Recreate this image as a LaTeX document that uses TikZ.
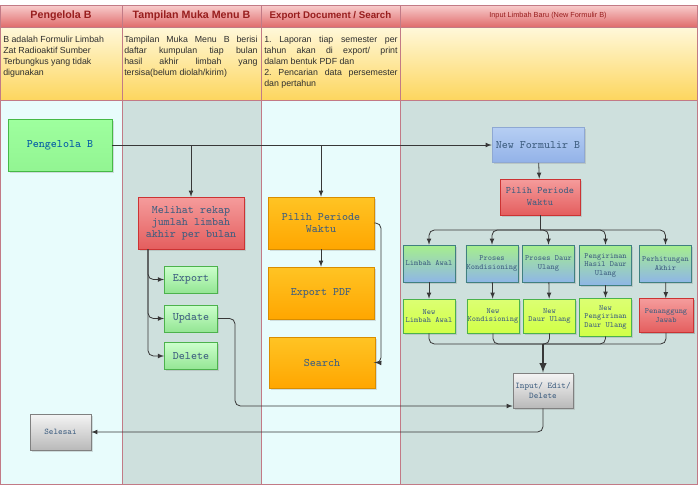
\documentclass[tikz,border=0pt]{standalone}
\usepackage{xcolor}
\usepackage{fontspec}
\setmainfont{Liberation Sans}
\usepackage{tikz}
\usetikzlibrary{arrows}
\usetikzlibrary{positioning}
\usetikzlibrary{shadows}

\definecolor{laneA}{HTML}{E8FCFC}
\definecolor{laneB}{HTML}{CEE0DD}
\definecolor{laneline}{HTML}{C27A86}
\definecolor{headtop}{HTML}{F8CDCD}
\definecolor{headbot}{HTML}{E06C6C}
\definecolor{headtext}{HTML}{981E1E}
\definecolor{desctop}{HTML}{FFF8DA}
\definecolor{descbot}{HTML}{FDD65E}
\definecolor{desctext}{HTML}{2E2E2E}
\definecolor{nodetext}{HTML}{3E5E80}
\definecolor{wire}{HTML}{383838}
\definecolor{orangetop}{HTML}{FFC424}
\definecolor{orangebot}{HTML}{FFA600}
\definecolor{bluetop}{HTML}{B6CEF3}
\definecolor{bluebot}{HTML}{92B2E8}
\definecolor{mixtop}{HTML}{A6EF8C}
\definecolor{mixbot}{HTML}{8FB6E6}
\definecolor{redtop}{HTML}{F59C9C}
\definecolor{redbot}{HTML}{E45E5E}

\tikzset{
  headtitle/.style={inner sep=0pt, text=headtext, font=\bfseries\fontsize{8}{9}\selectfont},
  desc/.style={anchor=north west, inner sep=0pt, text=desctext, font=\frenchspacing\fontsize{6.6}{8.3}\selectfont},
  box/.style={draw, thin, align=center, inner sep=0.5pt, text=nodetext,
    font=\ttfamily\fontsize{8.6}{9}\selectfont,
    drop shadow={opacity=0.25, shadow xshift=1.2pt, shadow yshift=-1.2pt}},
  smallbox/.style={box, font=\ttfamily\fontsize{6}{6.4}\selectfont},
  greenbox/.style={box, draw=green!45!gray, top color=green!38!white, bottom color=green!42!white!92!gray},
  limebox/.style={box, draw=green!40!gray, top color=green!20!white, bottom color=green!40!white!80!gray},
  redbox/.style={box, draw=red!60!gray, top color=redtop, bottom color=redbot},
  orangebox/.style={box, draw=orangebot!85!black, top color=orangetop, bottom color=orangebot},
  bluebox/.style={box, draw=bluebot!80!gray, top color=bluetop, bottom color=bluebot},
  mixbox/.style={smallbox, draw=teal!50!gray, top color=mixtop, bottom color=mixbot},
  yellowbox/.style={smallbox, draw=green!40!gray, top color=lime!55!white, bottom color=lime!72!white},
  graybox/.style={box, draw=gray, top color=gray!8, bottom color=gray!55,
    font=\ttfamily\fontsize{6.5}{7}\selectfont},
  wireline/.style={wire, line width=0.6pt, rounded corners=4pt}
}

\begin{document}
\begin{tikzpicture}[x=0.75pt,y=-0.75pt,>=latex]
\useasboundingbox (0,0) rectangle (700,486);
% lanes
\fill[white] (0,0) rectangle (700,486);
\fill[laneA] (0,100) rectangle (122,484);
\fill[laneB] (122,100) rectangle (261,484);
\fill[laneA] (261,100) rectangle (400,484);
\fill[laneB] (400,100) rectangle (697,484);
\shade[top color=headtop,bottom color=headbot] (0,5) rectangle (697,27);
\shade[top color=desctop,bottom color=descbot] (0,27) rectangle (697,100);
\draw[laneline] (0,5) rectangle (697,484);
\draw[laneline] (0,27) -- (697,27);
\draw[laneline] (0,100) -- (697,100);
\draw[laneline] (122,5) -- (122,484);
\draw[laneline] (261,5) -- (261,484);
\draw[laneline] (400,5) -- (400,484);

% headers
\node[headtitle] (h1) at (61,16) {Pengelola B};
\node[headtitle] (h2) at (191.5,16) {Tampilan Muka Menu B};
\node[headtitle, font=\bfseries\fontsize{7.3}{9}\selectfont] (h3) at (330.5,16) {Export Document / Search};
\node[headtitle, font=\fontsize{5.5}{7}\selectfont] (h4) at (548,16) {Input Limbah Baru (New Formulir B)};

% descriptions
\node[desc, align=left] (d1) at (3,36) {B adalah Formulir Limbah\\Zat Radioaktif Sumber\\Terbungkus yang tidak\\digunakan};
\node[desc, text width=100pt, align=justify] (d2) at (124,36) {Tampilan Muka Menu B berisi\linebreak daftar kumpulan tiap bulan\linebreak hasil akhir limbah yang\linebreak tersisa(belum diolah/kirim)};
\node[desc, text width=100pt, align=justify] (d3) at (264,36) {1. Laporan tiap semester per\linebreak tahun akan di export/ print\linebreak dalam bentuk PDF dan\\2. Pencarian data persemester\linebreak dan pertahun};

% lane 1
\node[greenbox, minimum width=78pt, minimum height=39pt, text=teal!70!blue] (pengB) at (60,145) {Pengelola B};
\node[graybox, minimum width=45.75pt, minimum height=27pt] (selesai) at (60.5,432) {Selesai};

% lane 2
\node[redbox, minimum width=79.5pt, minimum height=39pt] (rekap) at (191,223) {Melihat rekap\\jumlah limbah\\akhir per bulan};
\node[limebox, minimum width=40pt, minimum height=20pt] (exportB) at (191,279.5) {Export};
\node[limebox, minimum width=40pt, minimum height=20pt] (update) at (191,318.5) {Update};
\node[limebox, minimum width=40pt, minimum height=20pt] (delete) at (191,356) {Delete};

% lane 3
\node[orangebox, minimum width=79.5pt, minimum height=39pt] (pilih) at (321,223) {Pilih Periode\\Waktu};
\node[orangebox, minimum width=79.5pt, minimum height=39pt] (pdf) at (321,293) {Export PDF};
\node[orangebox, minimum width=79.5pt, minimum height=38.25pt] (search) at (322,362.5) {Search};

% lane 4
\node[bluebox, minimum width=69pt, minimum height=26.25pt] (newform) at (538,145) {New Formulir B};
\node[redbox, minimum width=60pt, minimum height=27pt, font=\ttfamily\fontsize{7.4}{9}\selectfont] (pilihB) at (540,197) {Pilih Periode\\Waktu};

\node[mixbox, minimum width=39pt, minimum height=27.75pt] (awal) at (429,263.5) {Limbah Awal};
\node[mixbox, minimum width=39pt, minimum height=27.75pt] (kondisi) at (492,263.5) {Proses\\Kondisioning};
\node[mixbox, minimum width=39pt, minimum height=27.75pt] (daur) at (548.5,263.5) {Proses Daur\\Ulang};
\node[mixbox, minimum width=39pt, minimum height=30pt] (kirim) at (605.5,265) {Pengiriman\\Hasil Daur\\Ulang};
\node[mixbox, minimum width=39pt, minimum height=27.75pt] (hitung) at (665.5,263.5) {Perhitungan\\Akhir};

\node[yellowbox, minimum width=39pt, minimum height=25.5pt] (nawal) at (429,316) {New\\Limbah Awal};
\node[yellowbox, minimum width=39pt, minimum height=25.5pt] (nkondisi) at (493,316) {New\\Kondisioning};
\node[yellowbox, minimum width=39pt, minimum height=25.5pt] (ndaur) at (549.5,316) {New\\Daur Ulang};
\node[yellowbox, minimum width=39pt, minimum height=28.5pt] (nkirim) at (605.5,317) {New\\Pengiriman\\Daur Ulang};
\node[redbox, smallbox, minimum width=40.5pt, minimum height=25.5pt] (jawab) at (666,315.5) {Penanggung\\Jawab};

\node[graybox, minimum width=45pt, minimum height=26.25pt] (ied) at (543,390.5) {Input/ Edit/\\Delete};

% connectors
\coordinate (rekapout) at (148,249);
\coordinate (updturn) at (235,406);
\coordinate (pilihturn) at (381,363);
\coordinate (split) at (540,230);
\coordinate (merge) at (543,344);

\draw[->, wireline] (pengB.east) -- (newform.west);
\draw[->, wireline] (rekap.north |- pengB.east) -- (rekap.north);
\draw[->, wireline] (pilih.north |- pengB.east) -- (pilih.north);

\draw[->, wireline] (rekapout) |- (exportB.west);
\draw[->, wireline] (rekapout) |- (update.west);
\draw[->, wireline] (rekapout) |- (delete.west);
\draw[->, wireline] (update.east) -| (updturn) -- (updturn -| ied.west);

\draw[->, wireline] (pilih) -- (pdf);
\draw[->, wireline] (pilih.east) -| (pilihturn) -- (search.east);

\draw[->, wireline] (newform) -- (pilihB);
\draw[wireline] (pilihB.south) -- (split);
\draw[->, wireline] (split) -| (awal.north);
\draw[->, wireline] (split) -| (kondisi.north);
\draw[->, wireline] (split) -| (daur.north);
\draw[->, wireline] (split) -| (kirim.north);
\draw[->, wireline] (split) -| (hitung.north);

\draw[->, wireline] (awal) -- (nawal);
\draw[->, wireline] (kondisi) -- (nkondisi);
\draw[->, wireline] (daur) -- (ndaur);
\draw[->, wireline] (kirim) -- (nkirim);
\draw[->, wireline] (hitung) -- (jawab);

\draw[wireline] (nawal.south) |- (merge);
\draw[wireline] (nkondisi.south) |- (merge);
\draw[wireline] (ndaur.south) |- (merge);
\draw[wireline] (nkirim.south) |- (merge);
\draw[wireline] (jawab.south) |- (merge);
\draw[->, wireline, line width=1.5pt] (merge) -- (ied.north);

\draw[->, wireline] (ied.south) |- (selesai.east);
\end{tikzpicture}
\end{document}
